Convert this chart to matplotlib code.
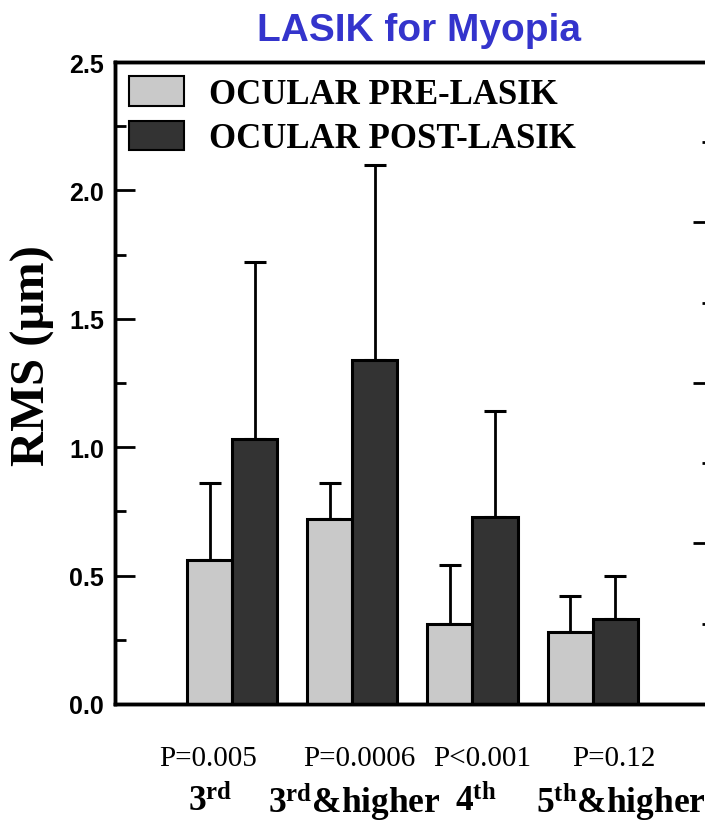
import numpy as np
import matplotlib
matplotlib.use('Agg')
import matplotlib.pyplot as plt

plt.rcParams['mathtext.fontset'] = 'custom'
plt.rcParams['mathtext.rm'] = 'Liberation Serif:bold'
plt.rcParams['mathtext.bf'] = 'Liberation Serif:bold'
plt.rcParams['mathtext.it'] = 'Liberation Serif:bold'

# RMS of higher-order aberrations, mean and upper SD
orders = ['3$^{\\rm rd}$', '3$^{\\rm rd}$&higher', '4$^{\\rm th}$', '5$^{\\rm th}$&higher']
p_values = ['P=0.005', 'P=0.0006', 'P<0.001', 'P=0.12']
pre_mean = [0.56, 0.72, 0.31, 0.28]
pre_sd = [0.30, 0.14, 0.23, 0.14]
post_mean = [1.03, 1.34, 0.73, 0.33]
post_sd = [0.69, 0.76, 0.41, 0.17]

x = np.arange(len(orders))
w = 0.375

fig = plt.figure(figsize=(7.05, 8.29), dpi=100)
ax = fig.add_axes([0.1631, 0.1496, 0.848, 0.7744])

b1 = ax.bar(x - w/2, pre_mean, w, color='#c9c9c9', edgecolor='black', linewidth=2.2,
            label='OCULAR PRE-LASIK', zorder=3)
b2 = ax.bar(x + w/2, post_mean, w, color='#333333', edgecolor='black', linewidth=2.2,
            label='OCULAR POST-LASIK', zorder=3)
ax.errorbar(x - w/2, pre_mean, yerr=[np.zeros(len(x)), pre_sd], fmt='none',
            ecolor='black', elinewidth=2, capsize=8, capthick=2.2, zorder=2)
ax.errorbar(x + w/2, post_mean, yerr=[np.zeros(len(x)), post_sd], fmt='none',
            ecolor='black', elinewidth=2, capsize=8, capthick=2.2, zorder=2)

ax.set_xlim(-0.975, 4.0)
ax.set_ylim(0, 2.5)
ax.set_yticks(np.arange(0, 2.51, 0.5))
ax.set_yticks(np.arange(0.25, 2.5, 0.5), minor=True)
ax.set_yticklabels(['%.1f' % v for v in np.arange(0, 2.51, 0.5)],
                   fontfamily='Liberation Sans', fontweight='bold', fontsize=18)
ax.tick_params(axis='y', which='major', direction='in', length=14.5, width=2, pad=8)
ax.tick_params(axis='y', which='minor', direction='in', length=8, width=2)
ax.set_xticks([])
for s in ax.spines.values():
    s.set_linewidth(2.5)

ax.set_ylabel('RMS (\u03bcm)', fontfamily='Liberation Serif', fontweight='bold', fontsize=35)
ax.yaxis.set_label_coords(-0.100, 0.545)

# secondary scale on the right
ax2 = ax.twinx()
ax2.set_ylim(0, 8)
ax2.set_yticks([0, 2, 4, 6, 8])
ax2.set_yticks([1, 3, 5, 7], minor=True)
ax2.set_yticklabels([])
ax2.tick_params(axis='y', which='major', direction='in', length=14.5, width=2)
ax2.tick_params(axis='y', which='minor', direction='in', length=8, width=2)
for s in ax2.spines.values():
    s.set_linewidth(2.5)

# p-values and aberration orders under the groups
tr = ax.get_xaxis_transform()
p_shift = [-0.2, 0.06, 0.08, 0.18]
o_shift = [-0.18, 0.02, 0.03, 0.235]
for i in range(len(orders)):
    ax.text(x[i] + p_shift[i], -0.084, p_values[i], transform=tr, ha='center', va='center',
            fontfamily='Liberation Serif', fontsize=21)
    ax.text(x[i] + o_shift[i], -0.152, orders[i], transform=tr, ha='center', va='center',
            fontfamily='Liberation Serif', fontweight='bold', fontsize=25.5)

leg = ax.legend(handles=[b1, b2], loc='upper left', bbox_to_anchor=(0, 1), frameon=False,
                borderaxespad=0, borderpad=0.4, handlelength=1.6, handleheight=0.95,
                handletextpad=0.72, labelspacing=0.28,
                prop={'family': 'Liberation Serif', 'weight': 'bold', 'size': 25})
for h in leg.legend_handles:
    h.set_linewidth(1.5)

fig.text(0.594, 0.963, 'LASIK for Myopia', ha='center', va='center', color='#3434cc',
         fontfamily='Liberation Sans', fontweight='bold', fontsize=28)

fig.savefig('out.png', dpi=100)
